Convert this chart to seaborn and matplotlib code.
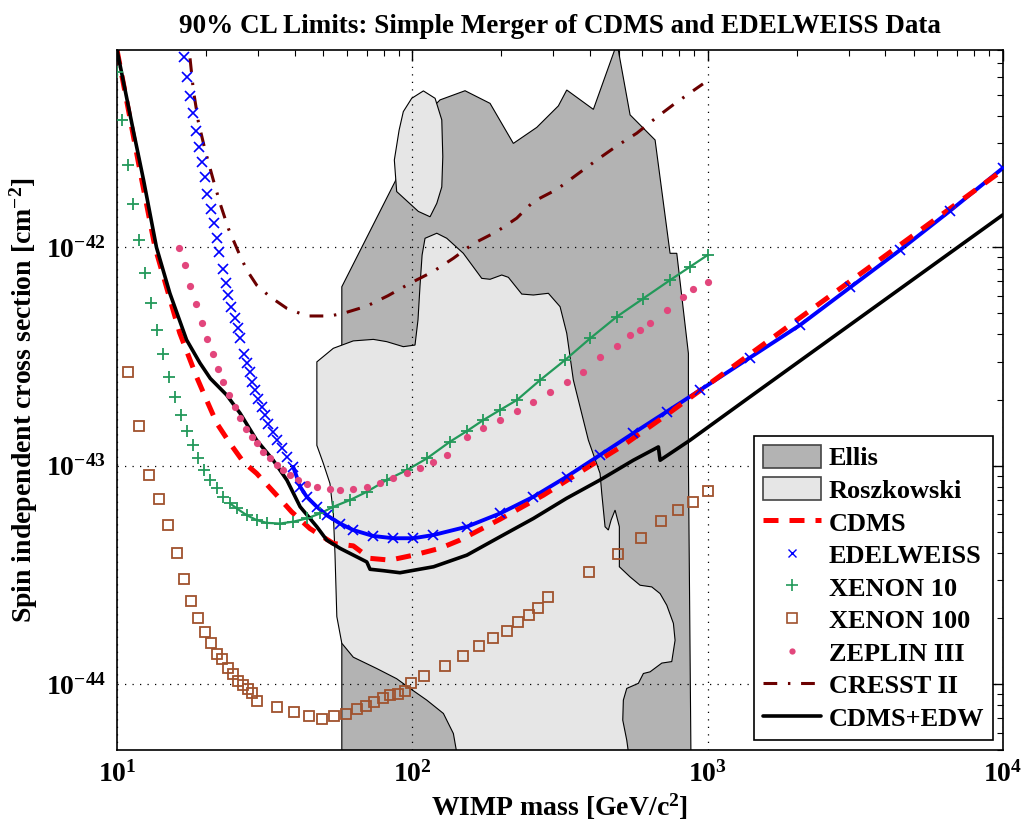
import numpy as np
import matplotlib
matplotlib.use("Agg")
import matplotlib.pyplot as plt
import seaborn as sns
from matplotlib.patches import Patch
from matplotlib.lines import Line2D
from matplotlib.ticker import FuncFormatter, FixedLocator, LogLocator, NullFormatter

sns.set_theme(style="white")
plt.rcParams["font.family"] = ["Liberation Serif", "DejaVu Serif"]
plt.rcParams["font.weight"] = "bold"
plt.rcParams["mathtext.fontset"] = "custom"
plt.rcParams["mathtext.rm"] = "Liberation Serif:bold"
plt.rcParams["mathtext.it"] = "Liberation Serif:bold"
plt.rcParams["mathtext.bf"] = "Liberation Serif:bold"
for key in ["text.color", "axes.labelcolor", "xtick.color", "ytick.color"]:
    plt.rcParams[key] = "black"

# ---------------------------------------------------------------------------
# data: WIMP mass [GeV/c^2], cross section [cm^2]
# ---------------------------------------------------------------------------
x_ticks = [10, 100, 1000, 10000]
y_ticks = [1e-44, 1e-43, 1e-42]

ellis_m = [57.7, 57.7, 87.4, 106.2, 124.1, 150.8, 183.3, 219.8, 263.8, 312.2, 333.3,
           410.2, 493.4, 546.1, 663.7, 745.9, 786.0, 860.5, 860.5, 878.7]
ellis_s = [4.0e-45, 6.60e-43, 2.00e-42, 3.83e-42, 4.73e-42, 5.21e-42, 4.56e-42, 2.99e-42,
           3.54e-42, 4.44e-42, 5.25e-42, 4.28e-42, 8.6e-42, 4.04e-42, 3.10e-42, 9.39e-43,
           9.39e-43, 3.27e-43, 1.06e-43, 4.0e-45]

rosz_top_m = [109.0, 119.4, 125.8, 126.8, 125.8, 121.0, 114.8, 104.8, 88.5, 86.9, 90.2, 93.2, 99.5]
rosz_top_s = [5.20e-42, 4.81e-42, 3.83e-42, 2.60e-42, 1.89e-42, 1.59e-42, 1.38e-42, 1.46e-42,
              1.80e-42, 2.51e-42, 3.44e-42, 4.18e-42, 4.81e-42]

rosz_low_m = [47.5, 54.0, 63.1, 73.8, 81.9, 93.2, 102.1, 104.5, 106.2, 107.9, 110.4, 121.0,
              130.8, 148.8, 171.8, 183.3, 200.8, 211.4, 234.7, 257.0, 288.8, 316.4, 333.3,
              350.9, 394.5, 432.1, 437.9, 449.3, 461.0, 470.9, 485.8, 502.3, 502.3, 546.1,
              590.3, 646.6, 690.1, 727.0, 765.5, 775.6, 755.8, 699.4, 638.3, 605.8, 582.6,
              532.1, 518.2, 515.8, 532.1, 550.0, 145.0, 137.7, 127.4, 111.9, 98.2, 88.5,
              75.8, 63.1, 57.7, 55.5, 54.7, 54.0, 52.6, 49.9, 47.5]
rosz_low_s = [2.99e-43, 3.45e-43, 3.73e-43, 3.79e-43, 3.70e-43, 3.51e-43, 3.57e-43, 4.65e-43,
              6.72e-43, 9.22e-43, 1.10e-42, 1.16e-42, 1.10e-42, 9.39e-43, 7.21e-43, 7.14e-43,
              7.47e-43, 7.29e-43, 6.11e-43, 6.05e-43, 6.16e-43, 5.35e-43, 4.04e-43, 2.47e-43,
              1.31e-43, 9.23e-44, 7.48e-44, 5.26e-44, 5.08e-44, 5.64e-44, 6.27e-44, 5.26e-44,
              3.45e-44, 3.10e-44, 2.84e-44, 2.79e-44, 2.60e-44, 2.30e-44, 1.90e-44, 1.59e-44,
              1.27e-44, 1.25e-44, 1.14e-44, 1.12e-44, 1.01e-44, 9.57e-45, 8.46e-45, 6.85e-45,
              5.55e-45, 4.0e-45, 4.0e-45, 5.95e-45, 7.35e-45, 8.46e-45, 9.57e-45, 1.06e-44,
              1.18e-44, 1.33e-44, 1.54e-44, 2.04e-44, 3.97e-44, 6.05e-44, 8.30e-44, 1.03e-43,
              1.24e-43]

cdms_m = [10, 12.0, 13.45, 16.3, 18.6, 20.1, 21.8, 24.1, 26.8, 29.7, 34.7, 39.0, 45.0,
          54.0, 63.1, 71.9, 84.0, 101, 124, 145, 198, 278, 379, 518, 708, 955, 10000]
cdms_s = [8.0e-42, 2.19e-42, 1.0e-42, 4.06e-43, 2.55e-43, 2.00e-43, 1.56e-43, 1.27e-43,
          1.04e-43, 9.23e-44, 7.34e-44, 6.16e-44, 5.16e-44, 4.41e-44, 4.30e-44, 3.77e-44,
          3.70e-44, 3.90e-44, 4.19e-44, 4.57e-44, 5.69e-44, 7.34e-44, 9.55e-44, 1.24e-43,
          1.67e-43, 2.24e-43, 2.26e-42]

edw_m = [16.8, 17.2, 17.6, 18.1, 18.5, 18.9, 19.4, 19.8, 20.2, 20.8, 21.3, 21.8, 22.2,
         22.8, 23.3, 23.8, 24.4, 25.0, 25.6, 26.1, 26.9, 27.5, 28.1, 28.6, 29.3, 30.1,
         30.9, 31.7, 32.5, 33.8, 34.7, 36.1, 37.6, 39.5, 41.7, 43.9, 47.5, 51.3, 56.9,
         63.1, 73.8, 86.2, 100.8, 117.8, 152.8, 198, 257, 333, 432, 560, 727, 942,
         1392, 2056, 3035, 4483, 6622, 10000]
edw_s = [7.47e-42, 6.04e-42, 4.93e-42, 4.11e-42, 3.42e-42, 2.89e-42, 2.47e-42, 2.09e-42,
         1.75e-42, 1.49e-42, 1.29e-42, 1.10e-42, 9.49e-43, 7.93e-43, 6.89e-43, 6.05e-43,
         5.35e-43, 4.73e-43, 4.26e-43, 3.86e-43, 3.24e-43, 2.94e-43, 2.68e-43, 2.43e-43,
         2.22e-43, 2.03e-43, 1.86e-43, 1.71e-43, 1.56e-43, 1.43e-43, 1.31e-43, 1.20e-43,
         1.10e-43, 9.89e-44, 8.02e-44, 7.21e-44, 6.49e-44, 5.94e-44, 5.44e-44, 5.08e-44,
         4.77e-44, 4.66e-44, 4.66e-44, 4.82e-44, 5.26e-44, 6.05e-44, 7.21e-44, 8.91e-44,
         1.12e-43, 1.41e-43, 1.77e-43, 2.22e-43, 3.13e-43, 4.41e-43, 6.55e-43, 9.72e-43,
         1.47e-42, 2.31e-42]

xe10_m = [10.0, 10.37, 10.87, 11.36, 11.90, 12.47, 13.04, 13.69, 14.35, 15.00, 15.72,
          16.43, 17.22, 18.13, 18.85, 19.71, 20.65, 21.76, 22.91, 24.13, 25.43, 27.50,
          29.72, 32.14, 35.65, 39.54, 43.90, 48.7, 54.0, 61.5, 70.1, 81.9, 95.7, 111.9,
          134.2, 152.8, 174, 198, 226, 271, 329, 400, 492, 605, 746, 872, 1000]
xe10_s = [6.32e-42, 3.83e-42, 2.38e-42, 1.58e-42, 1.08e-42, 7.60e-43, 5.57e-43, 4.18e-43,
          3.25e-43, 2.54e-43, 2.06e-43, 1.71e-43, 1.44e-43, 1.24e-43, 1.08e-43, 9.55e-44,
          8.61e-44, 7.88e-44, 7.21e-44, 6.73e-44, 6.38e-44, 5.94e-44, 5.64e-44, 5.48e-44,
          5.44e-44, 5.55e-44, 5.74e-44, 6.05e-44, 6.49e-44, 6.97e-44, 7.60e-44, 8.61e-44,
          9.55e-44, 1.08e-43, 1.29e-43, 1.44e-43, 1.62e-43, 1.80e-43, 2.00e-43, 2.47e-43,
          3.05e-43, 3.83e-43, 4.81e-43, 5.83e-43, 7.08e-43, 8.15e-43, 9.22e-43]

xe100_m = [10.92, 11.90, 12.87, 13.88, 14.88, 15.93, 16.86, 17.81, 18.85, 19.82, 20.81,
           21.87, 22.73, 23.82, 24.76, 25.75, 26.78, 27.84, 28.72, 29.72, 34.74, 39.66,
           44.69, 49.56, 54.44, 59.5, 64.8, 69.5, 74.3, 79.4, 84.0, 89.4, 94.5, 99.2,
           109.3, 129.1, 148.8, 168.7, 188.1, 208.8, 228.6, 248.5, 267.2, 287.4, 397.6,
           497.3, 596.5, 697, 794, 894.5, 1000]
xe100_s = [2.69e-43, 1.52e-43, 9.06e-44, 7.01e-44, 5.35e-44, 4.00e-44, 3.03e-44, 2.41e-44,
           2.02e-44, 1.74e-44, 1.54e-44, 1.38e-44, 1.30e-44, 1.19e-44, 1.11e-44, 1.04e-44,
           9.91e-45, 9.53e-45, 9.08e-45, 8.37e-45, 7.88e-45, 7.45e-45, 7.19e-45, 6.97e-45,
           7.19e-45, 7.29e-45, 7.71e-45, 7.94e-45, 8.28e-45, 8.67e-45, 8.89e-45, 9.01e-45,
           9.33e-45, 1.01e-44, 1.09e-44, 1.21e-44, 1.35e-44, 1.50e-44, 1.62e-44, 1.76e-44,
           1.92e-44, 2.07e-44, 2.24e-44, 2.51e-44, 3.27e-44, 3.95e-44, 4.67e-44, 5.56e-44,
           6.25e-44, 6.83e-44, 7.66e-44]

zep_m = [16.26, 16.99, 17.67, 18.51, 19.36, 20.13, 21.10, 22.03, 22.91, 24.01, 25.10,
         26.10, 27.35, 28.58, 29.72, 31.29, 32.96, 34.74, 36.57, 38.53, 41.11, 43.90,
         47.47, 52.63, 56.90, 63.12, 70.07, 77.7, 86.2, 95.7, 106.2, 117.8, 130.8, 152.8,
         173.6, 198, 225.7, 257, 292.7, 333, 379.3, 432, 492, 546, 590, 638, 727, 828,
         894.5, 1000]
zep_s = [9.89e-43, 8.30e-43, 6.65e-43, 5.49e-43, 4.52e-43, 3.81e-43, 3.24e-43, 2.77e-43,
         2.43e-43, 2.11e-43, 1.85e-43, 1.65e-43, 1.48e-43, 1.36e-43, 1.27e-43, 1.16e-43,
         1.08e-43, 1.01e-43, 9.55e-44, 9.06e-44, 8.61e-44, 8.24e-44, 7.96e-44, 7.80e-44,
         7.74e-44, 7.80e-44, 8.03e-44, 8.30e-44, 8.75e-44, 9.29e-44, 9.73e-44, 1.04e-43,
         1.12e-43, 1.36e-43, 1.49e-43, 1.62e-43, 1.78e-43, 1.96e-43, 2.18e-43, 2.43e-43,
         2.70e-43, 3.14e-43, 3.52e-43, 3.96e-43, 4.18e-43, 4.49e-43, 5.16e-43, 5.94e-43,
         6.43e-43, 6.95e-43]

cresst_m = [17.67, 18.13, 18.85, 19.86, 21.19, 22.33, 23.82, 25.75, 27.50, 29.72, 32.96,
            37.56, 43.90, 52.63, 58.41, 70.1, 82.8, 98.2, 117.8, 137.7, 160.9, 193.1,
            225.7, 257, 308.3, 360.3, 421.2, 492.2, 575.4, 672.3, 775.6, 918.4, 964]
cresst_s = [7.33e-42, 5.25e-42, 3.76e-42, 2.79e-42, 2.03e-42, 1.59e-42, 1.22e-42, 9.54e-43,
            7.87e-43, 6.71e-43, 5.94e-43, 5.26e-43, 4.85e-43, 4.85e-43, 4.99e-43, 5.38e-43,
            6.01e-43, 6.84e-43, 7.76e-43, 8.91e-43, 1.04e-42, 1.18e-42, 1.36e-42, 1.62e-42,
            1.84e-42, 2.15e-42, 2.51e-42, 2.91e-42, 3.33e-42, 3.94e-42, 4.56e-42, 5.35e-42,
            5.60e-42]

comb_m = [10, 11.4, 12.3, 13.6, 15.1, 17.2, 19.1, 20.7, 23.5, 26.1, 29.7, 33.8, 37.6, 41.7,
          47.5, 51.3, 56.9, 70.1, 71.9, 79.8, 90.8, 118, 153, 198, 257, 333, 432, 560,
          681, 690, 872, 1392, 10000]
comb_s = [8.0e-42, 3.33e-42, 2.03e-42, 1.0e-42, 6.16e-43, 3.77e-43, 2.95e-43, 2.51e-43,
          2.11e-43, 1.74e-43, 1.31e-43, 1.06e-43, 8.6e-44, 6.49e-44, 5.26e-44, 4.57e-44,
          4.19e-44, 3.63e-44, 3.36e-44, 3.31e-44, 3.24e-44, 3.45e-44, 3.90e-44, 4.73e-44,
          5.74e-44, 7.10e-44, 8.61e-44, 1.06e-43, 1.22e-43, 1.06e-43, 1.31e-43, 2.07e-43,
          1.41e-42]

ELLIS_C = "#b3b3b3"
ROSZ_C = "#e6e6e6"
CDMS_C = "#ff0000"
EDW_C = "#0000ff"
XE10_C = "#23995a"
XE100_C = "#a0522d"
ZEP_C = "#e2467c"
CRESST_C = "#6b0000"

fig = plt.figure(figsize=(10.22, 8.34), dpi=100)
ax = fig.add_axes([0.1145, 0.1007, 0.8669, 0.8393])
ax.set_xscale("log")
ax.set_yscale("log")

# theory regions
ax.fill(ellis_m, ellis_s, facecolor=ELLIS_C, edgecolor="black", lw=0.8, zorder=1)
ax.fill(rosz_low_m, rosz_low_s, facecolor=ROSZ_C, edgecolor="black", lw=0.8, zorder=1.1)
ax.fill(rosz_top_m, rosz_top_s, facecolor=ROSZ_C, edgecolor="black", lw=0.8, zorder=1.1)

line_kw = dict(sort=False, estimator=None, ax=ax, legend=False)

# CRESST II
sns.lineplot(x=cresst_m, y=cresst_s, color=CRESST_C, lw=2.2,
             linestyle=(0, (4.5, 3.5, 0.8, 3.5)), **line_kw)

# XENON 100 (open squares)
ax.plot(xe100_m, xe100_s, ls="none", marker="s", ms=7.5, mfc="none",
        mec=XE100_C, mew=1.3, zorder=3)

# XENON 10: the markers overlap into a band above ~25 GeV
xe10_m_a = np.array(xe10_m)
xe10_s_a = np.array(xe10_s)
dense = xe10_m_a >= 24
sns.lineplot(x=xe10_m_a[dense], y=xe10_s_a[dense], color=XE10_C, lw=1.6, **line_kw)
ax.plot(xe10_m, xe10_s, ls="none", marker="+", ms=9, mec=XE10_C, mew=1.3, zorder=3)

# ZEPLIN III
ax.plot(zep_m, zep_s, ls="none", marker="o", ms=5.2, mfc=ZEP_C, mec="none", zorder=3)

# EDELWEISS: same, dense band above ~38 GeV
edw_m_a = np.array(edw_m)
edw_s_a = np.array(edw_s)
dense = edw_m_a >= 38
sns.lineplot(x=edw_m_a[dense], y=edw_s_a[dense], color=EDW_C, lw=2.8, **line_kw)
ax.plot(edw_m, edw_s, ls="none", marker="x", ms=7, mec=EDW_C, mew=1.2, zorder=3)

# CDMS
sns.lineplot(x=cdms_m, y=cdms_s, color=CDMS_C, lw=3.6, linestyle=(0, (3, 2.2)), **line_kw)

# combined
sns.lineplot(x=comb_m, y=comb_s, color="black", lw=2.6, **line_kw)

ax.set_xlim(10, 1e4)
ax.set_ylim(5e-45, 8e-42)

fmt = FuncFormatter(lambda v, p: r"$\mathrm{10^{%d}}$" % int(round(np.log10(v))))
ax.xaxis.set_major_locator(FixedLocator(x_ticks))
ax.yaxis.set_major_locator(FixedLocator(y_ticks))
ax.xaxis.set_major_formatter(fmt)
ax.yaxis.set_major_formatter(fmt)
ax.xaxis.set_minor_locator(LogLocator(base=10, subs=np.arange(2, 10), numticks=20))
ax.yaxis.set_minor_locator(LogLocator(base=10, subs=np.arange(2, 10), numticks=20))
ax.xaxis.set_minor_formatter(NullFormatter())
ax.yaxis.set_minor_formatter(NullFormatter())
ax.tick_params(which="both", direction="in", top=True, right=True, colors="black",
               labelsize=20)
ax.tick_params(which="major", length=8, width=1, pad=8)
ax.tick_params(which="minor", length=4, width=0.8)

ax.grid(True, which="major", ls=(0, (1, 5)), color="black", lw=0.9)
ax.set_axisbelow(False)
for sp in ax.spines.values():
    sp.set_color("black")
    sp.set_linewidth(1.2)

ax.set_title("90% CL Limits: Simple Merger of CDMS and EDELWEISS Data",
             fontsize=19.5, fontweight="bold", pad=12)
ax.set_xlabel(r"WIMP mass [GeV/c$^{2}$]", fontsize=20, fontweight="bold", labelpad=3)
ax.set_ylabel(r"Spin independent cross section [cm$^{-2}$]", fontsize=20,
              fontweight="bold", labelpad=4)

handles = [
    Patch(facecolor=ELLIS_C, edgecolor="#444444", lw=1.2),
    Patch(facecolor=ROSZ_C, edgecolor="#444444", lw=1.2),
    Line2D([], [], color=CDMS_C, lw=3.6, ls=(0, (3, 2.2))),
    Line2D([], [], ls="none", marker="x", ms=6, mec=EDW_C, mew=1.0),
    Line2D([], [], ls="none", marker="+", ms=8, mec=XE10_C, mew=1.2),
    Line2D([], [], ls="none", marker="s", ms=6.5, mfc="none", mec=XE100_C, mew=1.2),
    Line2D([], [], ls="none", marker="o", ms=4.5, mfc=ZEP_C, mec="none"),
    Line2D([], [], color=CRESST_C, lw=2.2, ls=(0, (4.5, 3.5, 0.8, 3.5))),
    Line2D([], [], color="black", lw=2.6),
]
labels = ["Ellis", "Roszkowski", "CDMS", "EDELWEISS", "XENON 10", "XENON 100",
          "ZEPLIN III", "CRESST II", "CDMS+EDW"]
leg = ax.legend(handles, labels, loc="lower right", bbox_to_anchor=(0.989, 0.014),
                borderaxespad=0, fancybox=False, framealpha=1, edgecolor="black",
                prop={"family": "Liberation Serif", "weight": "bold", "size": 19},
                handlelength=2.2, handleheight=0.95, handletextpad=0.27,
                labelspacing=0.27, borderpad=0.35)
leg.get_frame().set_linewidth(1.2)
leg.set_zorder(10)

fig.savefig("out.png", dpi=100)
